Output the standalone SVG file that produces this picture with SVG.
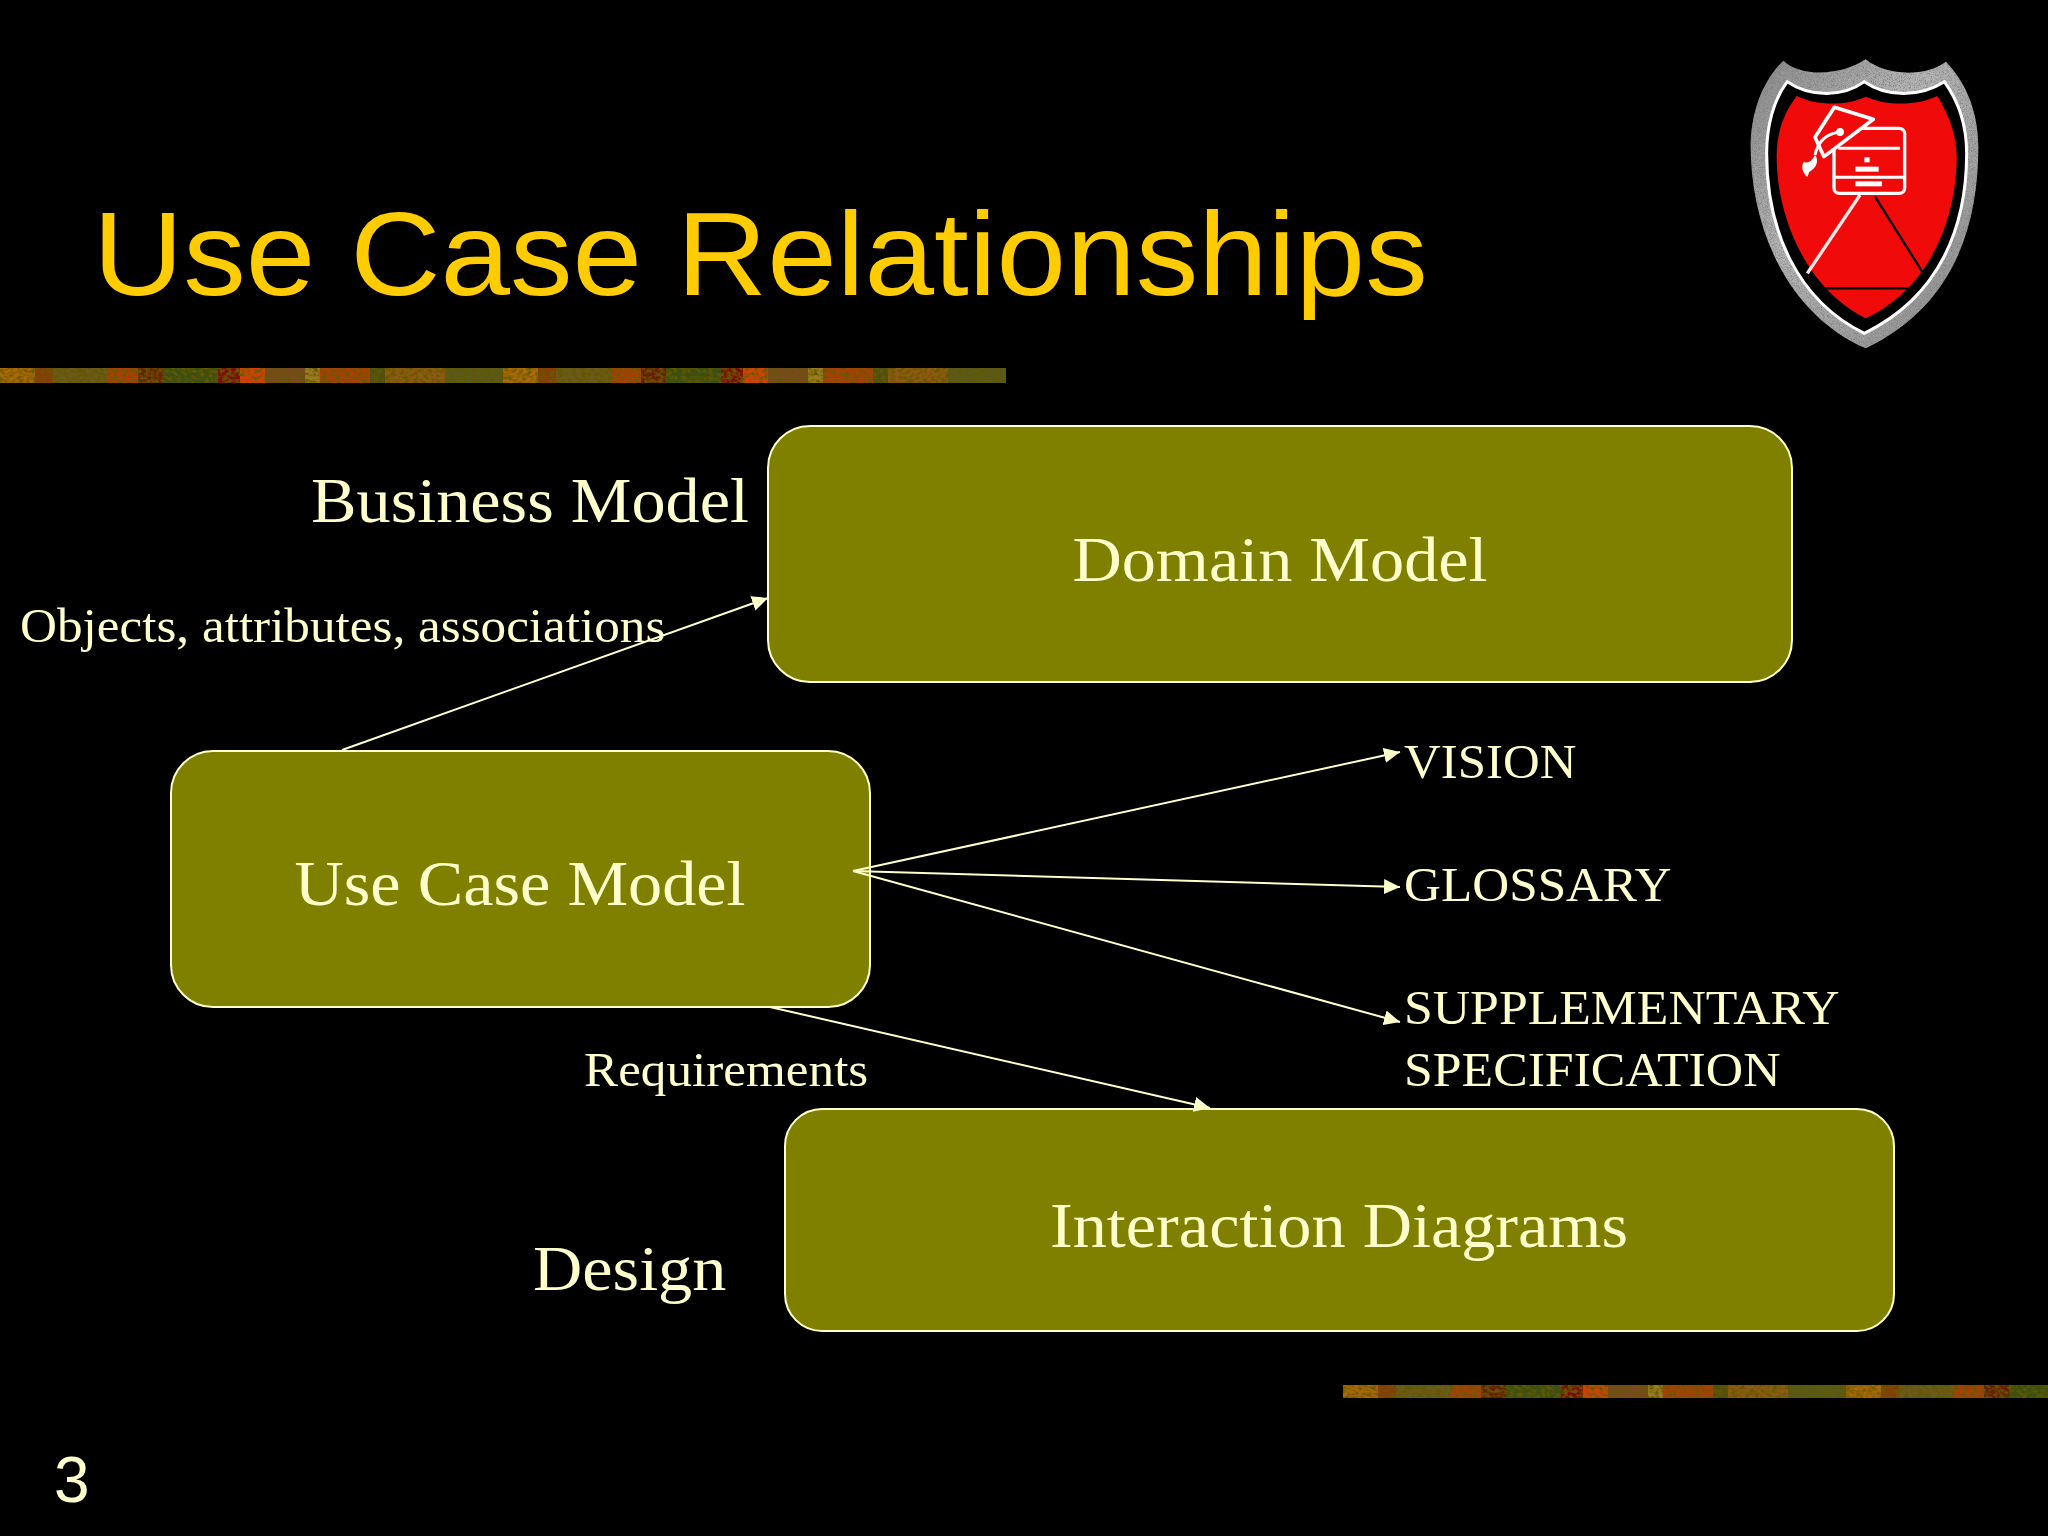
<svg xmlns="http://www.w3.org/2000/svg" width="2048" height="1536" viewBox="0 0 2048 1536">
<style>
.box{fill:#808000;stroke:#ffffcc;stroke-width:2}
.t{font-family:"Liberation Serif","Times New Roman",serif;fill:#ffffcc}
.big{font-size:64px}
.mid{font-size:48px}
.c{stroke:#ffffcc;stroke-width:2;fill:none;marker-end:url(#arr)}
.ws{fill:none;stroke:#fff;stroke-linejoin:round}
</style>
<defs>
<marker id="arr" viewBox="0 0 16 16" refX="16" refY="8" markerWidth="16" markerHeight="16" markerUnits="userSpaceOnUse" orient="auto"><path d="M0,0.5 L16,8 L0,15.5 Z" fill="#ffffcc"/></marker>
<filter id="grain" x="0" y="0" width="100%" height="100%"><feTurbulence type="fractalNoise" baseFrequency="0.5" numOctaves="2" seed="4"/><feColorMatrix values="0 0 0 0 0.2 0 0 0 0 0.2 0 0 0 0 0.2 0 0 0 2.2 -0.85"/><feComposite in2="SourceGraphic" operator="in"/><feMerge><feMergeNode in="SourceGraphic"/><feMergeNode/></feMerge></filter>
<filter id="mottle" x="0" y="0" width="100%" height="100%"><feTurbulence type="fractalNoise" baseFrequency="0.22 0.3" numOctaves="2" seed="9"/><feColorMatrix values="0 0 0 0 0.12 0 0 0 0 0.1 0 0 0 0 0 0 0 0 3 -1.2"/><feComposite in2="SourceGraphic" operator="in"/><feMerge><feMergeNode in="SourceGraphic"/><feMergeNode/></feMerge></filter>
<linearGradient id="silver" x1="0" y1="0" x2="1" y2="1"><stop offset="0" stop-color="#8a8a8a"/><stop offset="0.4" stop-color="#b8b8b8"/><stop offset="1" stop-color="#8c8c8c"/></linearGradient>
<pattern id="band" width="503" height="15" patternUnits="userSpaceOnUse" y="368">
<rect width="503" height="15" fill="#7a3d0a"/>
<rect x="0" width="35" height="15" fill="#a8680c"/><rect x="35" width="18" height="15" fill="#8a3a0c"/><rect x="53" width="55" height="15" fill="#6a5a1c"/><rect x="108" width="30" height="15" fill="#a83c0c"/><rect x="138" width="25" height="15" fill="#6a1c0c"/><rect x="163" width="55" height="15" fill="#3a4f14"/><rect x="218" width="22" height="15" fill="#7a1008"/><rect x="240" width="25" height="15" fill="#d0400a"/><rect x="265" width="40" height="15" fill="#7a4a24"/><rect x="305" width="15" height="15" fill="#9a7a20"/><rect x="320" width="50" height="15" fill="#a83c0c"/><rect x="370" width="15" height="15" fill="#4f4f14"/><rect x="385" width="60" height="15" fill="#8c5a14"/><rect x="445" width="58" height="15" fill="#5a5a1c"/>
</pattern>
<pattern id="band2" width="503" height="13" patternUnits="userSpaceOnUse" x="1343" y="1385">
<rect width="503" height="13" fill="#7a3d0a"/>
<rect x="0" width="35" height="13" fill="#a8680c"/><rect x="35" width="18" height="13" fill="#8a3a0c"/><rect x="53" width="55" height="13" fill="#6a5a1c"/><rect x="108" width="30" height="13" fill="#a83c0c"/><rect x="138" width="25" height="13" fill="#6a1c0c"/><rect x="163" width="55" height="13" fill="#3a4f14"/><rect x="218" width="22" height="13" fill="#7a1008"/><rect x="240" width="25" height="13" fill="#d0400a"/><rect x="265" width="40" height="13" fill="#7a4a24"/><rect x="305" width="15" height="13" fill="#9a7a20"/><rect x="320" width="50" height="13" fill="#a83c0c"/><rect x="370" width="15" height="13" fill="#4f4f14"/><rect x="385" width="60" height="13" fill="#8c5a14"/><rect x="445" width="58" height="13" fill="#5a5a1c"/>
</pattern>
</defs>
<rect width="2048" height="1536" fill="#000"/>
<rect x="0" y="368" width="1006" height="15" fill="url(#band)" filter="url(#mottle)"/>
<rect x="1343" y="1385" width="705" height="13" fill="url(#band2)" filter="url(#mottle)"/>
<text transform="translate(93 295) scale(1.06 1)" font-family="'Liberation Sans',Arial,sans-serif" font-size="118" fill="#ffcc00">Use Case Relationships</text>
<g id="logo" transform="translate(1700,40) scale(0.3333)">
<path filter="url(#grain)" fill="url(#silver)" d="M250,62 C300,110 420,110 497,58 C560,110 680,110 738,65 C800,130 835,220 835,320 C835,560 760,800 497,925 C260,820 150,560 152,310 C155,210 190,120 250,62Z"/>
<path fill="#000" stroke="#fff" stroke-width="9" d="M262,125 C330,172 430,172 493,125 C560,172 660,172 733,125 C780,190 800,260 800,340 C800,560 720,770 493,880 C290,780 200,570 200,340 C200,260 220,180 262,125Z"/>
<path fill="#f00a0a" d="M290,168 C350,198 440,198 497,170 C560,198 650,198 712,168 C750,230 770,290 770,350 C770,520 700,740 497,835 C310,740 230,520 230,350 C230,280 250,220 290,168Z"/>
<path d="M525,470 L670,700 M362,745 L640,745" stroke="#000" stroke-width="7" fill="none"/>
<path d="M480,465 L322,700" stroke="#ffe6e6" stroke-width="10" fill="none"/>
<rect x="402" y="265" width="212" height="195" rx="16" class="ws" stroke-width="10"/>
<path class="ws" stroke-width="9" d="M402,412 H614 M415,325 H600"/>
<rect x="466" y="380" width="70" height="15" fill="#fff"/><rect x="466" y="424" width="80" height="15" fill="#fff"/><rect x="493" y="352" width="16" height="15" fill="#fff"/>
<path d="M403,202 L520,238 L372,350 L345,292Z" fill="#f00a0a" stroke="#fff" stroke-width="11" stroke-linejoin="round"/>
<path class="ws" stroke-width="9" d="M420,276 C385,280 355,300 345,345"/><circle cx="420" cy="276" r="12" fill="#fff"/>
<path fill="#fff" d="M345,345 C358,360 350,385 328,395 L322,412 C310,400 300,380 312,365 C322,372 335,365 345,345Z"/>
</g>
<g id="domain-model"><rect class="box" x="768" y="426" width="1024" height="256" rx="42"/><text class="t big" transform="translate(1280 581) scale(1.0667 1)" text-anchor="middle">Domain Model</text></g>
<g id="use-case-model"><rect class="box" x="171" y="751" width="699" height="256" rx="42"/><text class="t big" transform="translate(520 905) scale(1.0667 1)" text-anchor="middle">Use Case Model</text></g>
<g id="interaction-diagrams"><rect class="box" x="785" y="1109" width="1109" height="222" rx="37"/><text class="t big" transform="translate(1339 1247) scale(1.0667 1)" text-anchor="middle">Interaction Diagrams</text></g>
<g id="connectors">
<path class="c" d="M342,750 L768,598"/>
<path class="c" d="M853,871 L1400,752"/>
<path class="c" d="M853,871 L1400,887"/>
<path class="c" d="M853,871 L1400,1022"/>
<path class="c" d="M770,1007 L1210,1108"/>
</g>
<g id="labels">
<text class="t big" transform="translate(311 522) scale(1.0667 1)">Business Model</text>
<text class="t mid" transform="translate(20 642) scale(1.0667 1)">Objects, attributes, associations</text>
<text class="t mid" transform="translate(1404 778) scale(1.06 1)">VISION</text>
<text class="t mid" transform="translate(1404 901) scale(1.0667 1)">GLOSSARY</text>
<text class="t mid" transform="translate(1404 1024) scale(1.078 1)">SUPPLEMENTARY</text>
<text class="t mid" transform="translate(1404 1086) scale(1.078 1)">SPECIFICATION</text>
<text class="t mid" transform="translate(584 1086) scale(1.0667 1)">Requirements</text>
<text class="t big" transform="translate(533 1290) scale(1.0667 1)">Design</text>
<text x="54" y="1502" font-family="'Liberation Sans',Arial,sans-serif" font-size="64" fill="#ffffcc">3</text>
</g>
</svg>
